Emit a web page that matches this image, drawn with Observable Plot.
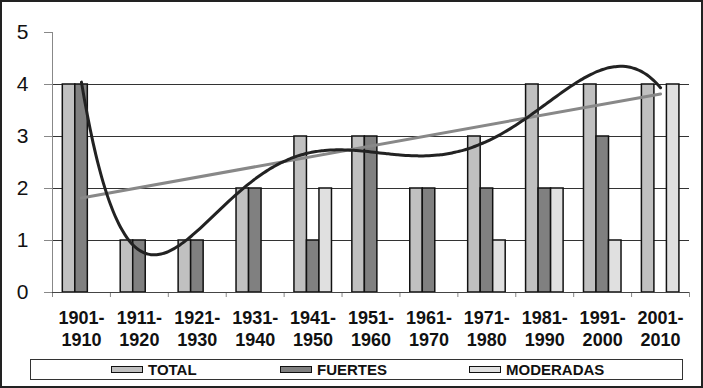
<!DOCTYPE html>
<html><head><meta charset="utf-8">
<script src="https://cdn.jsdelivr.net/npm/d3@7"></script>
<script src="https://cdn.jsdelivr.net/npm/@observablehq/plot@0.6"></script>
<style>
body{margin:0;background:#fff;font-family:"Liberation Sans",Arial,sans-serif;}
#wrap{position:relative;width:703px;height:388px;overflow:hidden;background:#fff;}
#border{position:absolute;left:0;top:0;width:703px;height:388px;box-sizing:border-box;border:2px solid #222;pointer-events:none;}
#chart{position:absolute;left:0;top:0;}
#legend{position:absolute;left:30px;top:359px;width:653px;height:21px;box-sizing:border-box;border:1.5px solid #333;background:#fff;}
.item{position:absolute;top:0;height:100%;display:flex;align-items:center;font-weight:bold;font-size:15px;color:#111;}
.sw{width:30px;height:5px;border:1.5px solid #111;margin-right:5px;}
</style></head>
<body><div id="wrap"><div id="chart"></div><div id="legend"></div><div id="border"></div></div>
<script>
const decades = ["1901-1910","1911-1920","1921-1930","1931-1940","1941-1950","1951-1960","1961-1970","1971-1980","1981-1990","1991-2000","2001-2010"];
const seriesNames = ["TOTAL","FUERTES","MODERADAS"];
const total     = [4,1,1,2,3,3,2,3,4,4,4];
const fuertes   = [4,1,1,2,1,3,2,2,2,3,0];
const moderadas = [0,0,0,0,2,0,0,1,2,1,4];
const yTicks = [0,1,2,3,4,5];
const gridValues = [1,2,3,4];

const colors = ["#c0c0c0","#808080","#e0e0e0"];
const offsets = [[0.178,0.394],[0.394,0.61],[0.61,0.826]];
const seriesValues = [total, fuertes, moderadas];

const idx = decades.map((_, i) => i + 1);
const boundaries = [0].concat(idx).map(i => i + 0.5);

const bars = [];
seriesValues.forEach((vals, si) => vals.forEach((v, i) => { if (v > 0) bars.push({i: i + 1, v, si}); }));

// polynomial (order 6) trend of TOTAL, least squares
function polyFit(xs, ys, deg) {
  const mx = d3.mean(xs), sx = (d3.max(xs) - d3.min(xs)) / 2;
  const n = deg + 1;
  const A = Array.from({length: n}, () => new Array(n + 1).fill(0));
  xs.forEach((x, k) => {
    const t = (x - mx) / sx;
    const p = d3.range(n).map(j => Math.pow(t, j));
    for (let r = 0; r < n; r++) { for (let c = 0; c < n; c++) A[r][c] += p[r] * p[c]; A[r][n] += p[r] * ys[k]; }
  });
  for (let i = 0; i < n; i++) {
    let m = i;
    for (let r = i + 1; r < n; r++) if (Math.abs(A[r][i]) > Math.abs(A[m][i])) m = r;
    [A[i], A[m]] = [A[m], A[i]];
    for (let r = 0; r < n; r++) { if (r === i) continue; const f = A[r][i] / A[i][i]; for (let c = i; c <= n; c++) A[r][c] -= f * A[i][c]; }
  }
  const coef = A.map((row, i) => row[n] / row[i]);
  return x => { const t = (x - mx) / sx; return coef.reduce((s, c, j) => s + c * Math.pow(t, j), 0); };
}
const poly = polyFit(idx, total, 6);
const curve = d3.range(1, 11.0001, 0.05).map(x => ({x, y: poly(x)}));
const totalPts = idx.map(i => ({i, v: total[i - 1]}));

const chart = Plot.plot({
  width: 703, height: 355,
  marginLeft: 52, marginRight: 14, marginTop: 32, marginBottom: 63,
  style: {fontFamily: "Liberation Sans, Arial, sans-serif", background: "transparent", overflow: "visible"},
  x: {type: "linear", domain: [0.5, 11.5], axis: null},
  y: {domain: [0, 5], axis: null},
  marks: [
    Plot.ruleY(gridValues, {stroke: "#333", strokeWidth: 1}),
    Plot.ruleX([0.5], {y1: 0, y2: 5, stroke: "#888", strokeWidth: 1}),
    Plot.axisY({ticks: yTicks, tickSize: 8, tickFormat: () => "", stroke: "#888", label: null}),
    Plot.text(yTicks, {x: 0.5, y: d => d, text: d => String(d), dx: -24, textAnchor: "end", fontSize: 21, fill: "#111"}),
    Plot.axisX({ticks: boundaries, tickSize: 5, tickFormat: () => "", stroke: "#888", label: null}),
    Plot.rectY(bars, {x1: d => d.i - 0.5 + offsets[d.si][0], x2: d => d.i - 0.5 + offsets[d.si][1], y1: 0, y2: "v", fill: d => colors[d.si], stroke: "#111", strokeWidth: 1.5}),
    Plot.ruleY([0], {stroke: "#444", strokeWidth: 1}),
    Plot.linearRegressionY(totalPts, {x: "i", y: "v", stroke: "#888", strokeWidth: 3, ci: 0}),
    Plot.line(curve, {x: "x", y: "y", stroke: "#222", strokeWidth: 3, curve: "natural"}),
    Plot.text(idx, {x: d => d, y: 0, text: d => decades[d - 1].replace("-", "-\n"), dy: 16, lineAnchor: "top", lineHeight: 1.22, fontSize: 18, fontWeight: "bold", fill: "#111"})
  ]
});
document.getElementById("chart").appendChild(chart);

const legendLefts = [80, 249, 438];
const legend = document.getElementById("legend");
seriesNames.forEach((name, i) => {
  const item = document.createElement("div");
  item.className = "item";
  item.style.left = legendLefts[i] + "px";
  const sw = document.createElement("div");
  sw.className = "sw";
  sw.style.background = colors[i];
  item.appendChild(sw);
  item.appendChild(document.createTextNode(name));
  legend.appendChild(item);
});
</script>
</body></html>
